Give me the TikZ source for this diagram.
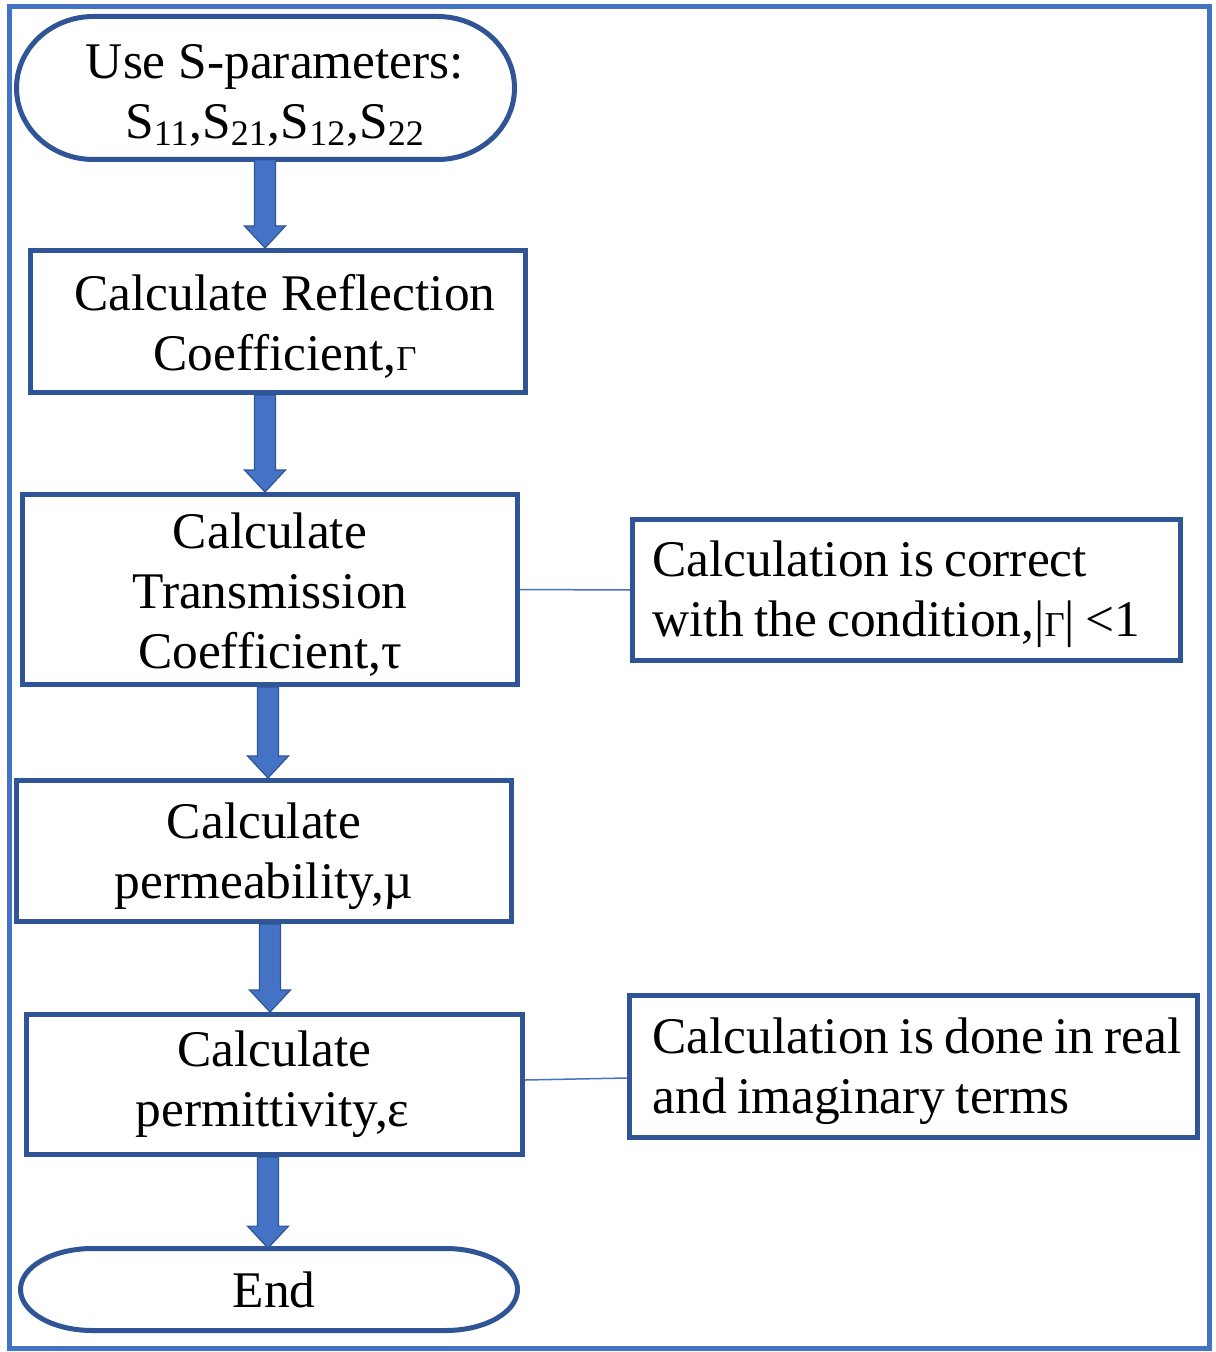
\documentclass[tikz,border=0pt]{standalone}
\usepackage{fontspec}
\usepackage{graphicx}
\setmainfont{Liberation Serif}
\usetikzlibrary{calc}
\definecolor{boxblue}{HTML}{2F5597}
\definecolor{lightblue}{HTML}{4472C4}
\newcommand\smGamma{\scalebox{0.68}{Γ}}
\newcommand\tstrut[1]{\rule{0pt}{#1}}
\newcommand\tightsp{\spaceskip=0.2em\relax}
% #1 = x position (px), #2 = from node, #3 = to node
\newcommand\fatarrow[3]{%
  \draw[fatarrow] let \p1=(#2.south), \p2=(#3.north) in
    ({#1*0.5pt-5.25pt},\y1) -- ({#1*0.5pt-5.25pt},\y2+11pt) --
    ({#1*0.5pt-10.25pt},\y2+11pt) -- ({#1*0.5pt},\y2) --
    ({#1*0.5pt+10.25pt},\y2+11pt) -- ({#1*0.5pt+5.25pt},\y2+11pt) --
    ({#1*0.5pt+5.25pt},\y1) -- cycle;}
\begin{document}
\begin{tikzpicture}[x=0.5pt,y=-0.5pt,
  every node/.style={font=\fontsize{25.7}{30}\selectfont},
  procbox/.style={draw=boxblue, line width=2.5pt, align=center, inner sep=0pt},
  notebox/.style={draw=boxblue, line width=2.5pt, align=left, inner ysep=0pt, inner xsep=10pt},
  termpath/.style={draw=boxblue, line width=2.5pt, fill=white},
  termnode/.style={align=center, inner sep=0pt},
  fatarrow/.style={draw=boxblue, line width=0.6pt, fill=lightblue},
  sideline/.style={draw=lightblue, line width=0.75pt}]
\useasboundingbox (0,0) rectangle (1215,1352);
\draw[lightblue, line width=2.5pt] (9.5,7) rectangle (1209.5,1348.5);

% start terminator
\draw[termpath] (93.5,16.5) -- (437.5,16.5)
  arc[start angle=-90, end angle=90, x radius=77, y radius=71.5] -- (93.5,159.5)
  arc[start angle=90, end angle=270, x radius=77, y radius=71.5] -- cycle;
\node[termnode, minimum width=249pt, minimum height=71.5pt] (start) at (275,88)
  {\tstrut{24pt}Use S-parameters:\\S\textsubscript{11},S\textsubscript{21},S\textsubscript{12},S\textsubscript{22}};

% process boxes
\node[procbox, minimum width=247.5pt, minimum height=71pt] (refl) at (278,321.5)
  {\tstrut{23pt}\hspace*{7pt}Calculate Reflection\\\hspace*{7pt}Coefficient,\smGamma};
\node[procbox, minimum width=247.5pt, minimum height=95pt] (trans) at (270,589.5)
  {\tstrut{23pt}Calculate\\Transmission\\Coefficient,τ};
\node[procbox, minimum width=247.5pt, minimum height=70.5pt] (perm) at (264,851)
  {\tstrut{23pt}Calculate\\permeability,µ};
\node[procbox, minimum width=248pt, minimum height=70pt] (permit) at (274.5,1084.5)
  {Calculate\\permittivity,ε\hspace*{2pt}};

% end terminator
\draw[termpath] (92.5,1248.5) -- (445.5,1248.5)
  arc[start angle=-90, end angle=90, x radius=72, y radius=41] -- (92.5,1330.5)
  arc[start angle=90, end angle=270, x radius=72, y radius=41] -- cycle;
\node[termnode, minimum width=248.5pt, minimum height=41pt] (finish) at (274,1289.5) {End};

% note boxes
\node[notebox, text width=254pt, minimum height=70.5pt] (note1) at (906.5,590)
  {\tightsp\mbox{\tstrut{22.5pt}Calculation is correct}\\\mbox{with the condition,|\smGamma| <1}};
\node[notebox, text width=264pt, minimum height=71pt] (note2) at (913.5,1066.5)
  {\tightsp\mbox{\tstrut{23pt}\hspace*{1.5pt}Calculation is done in real}\\\mbox{\hspace*{1.5pt}and imaginary terms}};

% side connectors
\draw[sideline] (trans.east) -- (note1.west);
\draw[sideline] ([yshift=2.25pt]permit.east) -- ([yshift=-5.75pt]note2.west);

% fat arrows
\fatarrow{265}{start}{refl}
\fatarrow{265}{refl}{trans}
\fatarrow{268}{trans}{perm}
\fatarrow{270}{perm}{permit}
\fatarrow{268}{permit}{finish}
\end{tikzpicture}
\end{document}
